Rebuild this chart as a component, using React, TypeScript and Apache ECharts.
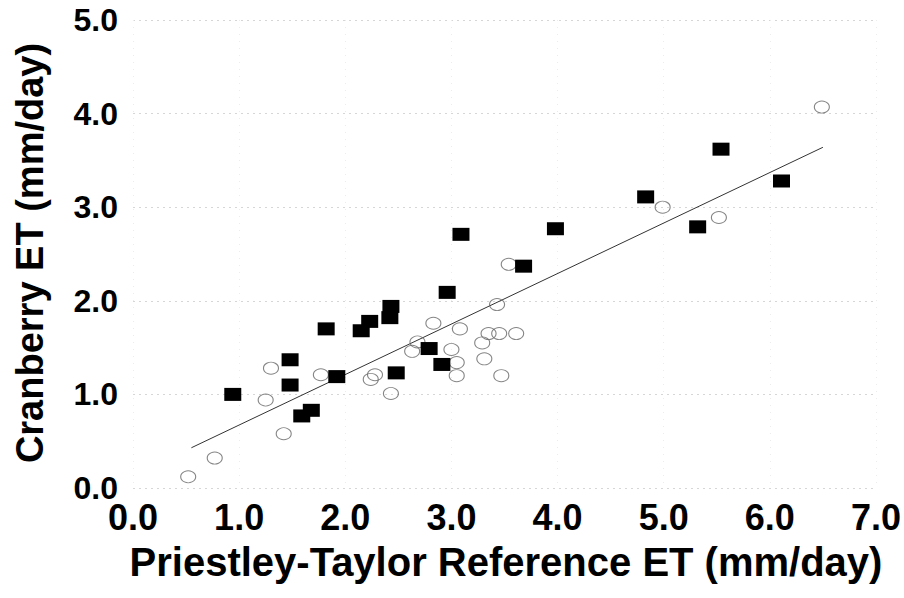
import React, { useEffect, useRef } from "react";
import * as echarts from "echarts";

// Filled squares
const squareX = [0.94, 1.48, 1.48, 1.59, 1.68, 1.82, 1.92, 2.15, 2.23, 2.42, 2.43, 2.48, 2.79, 2.91, 2.96, 3.09, 3.68, 3.98, 4.83, 5.32, 5.54, 6.11];
const squareY = [1.0, 1.37, 1.1, 0.77, 0.83, 1.7, 1.19, 1.68, 1.78, 1.82, 1.94, 1.23, 1.49, 1.32, 2.09, 2.71, 2.37, 2.77, 3.11, 2.79, 3.62, 3.28];

// Open circles
const circleX = [0.52, 0.77, 1.25, 1.3, 1.42, 1.77, 2.24, 2.28, 2.43, 2.63, 2.68, 2.83, 3.0, 3.05, 3.05, 3.08, 3.29, 3.31, 3.35, 3.43, 3.45, 3.47, 3.54, 3.61, 4.99, 5.52, 6.49];
const circleY = [0.12, 0.32, 0.94, 1.28, 0.58, 1.21, 1.16, 1.21, 1.01, 1.46, 1.56, 1.76, 1.48, 1.34, 1.2, 1.7, 1.55, 1.38, 1.65, 1.96, 1.65, 1.2, 2.39, 1.65, 3.0, 2.89, 4.07];

// Regression line end points
const trendX = [0.55, 6.5];
const trendY = [0.43, 3.64];

const xTicks = [0, 1, 2, 3, 4, 5, 6, 7];
const yTicks = [0, 1, 2, 3, 4, 5];

const xTitle = "Priestley-Taylor Reference ET (mm/day)";
const yTitle = "Cranberry ET (mm/day)";

const FONT = "'Liberation Sans', Arial, Helvetica, sans-serif";

export default function App() {
  const ref = useRef<HTMLDivElement>(null);

  useEffect(() => {
    document.body.style.margin = "0";
    if (!ref.current) return;
    const chart = echarts.init(ref.current, null, { renderer: "svg" });
    const zip = (xs: number[], ys: number[]) => xs.map((x, i) => [x, ys[i]]);
    chart.setOption({
      animation: false,
      backgroundColor: "#ffffff",
      grid: { left: 133, right: 27, top: 20, bottom: 110, containLabel: false },
      xAxis: {
        type: "value",
        min: xTicks[0],
        max: xTicks[xTicks.length - 1],
        interval: 1,
        axisLine: { show: false },
        axisTick: { show: false },
        splitLine: { show: true, lineStyle: { color: "#ececec", type: [1, 6], width: 1 } },
        axisLabel: {
          margin: 11,
          color: "#000",
          fontFamily: FONT,
          fontWeight: "bold",
          fontSize: 36,
          formatter: (v: number) => v.toFixed(1),
        },
      },
      yAxis: {
        type: "value",
        min: yTicks[0],
        max: yTicks[yTicks.length - 1],
        interval: 1,
        axisLine: { show: false },
        axisTick: { show: false },
        splitLine: { show: true, lineStyle: { color: "#d6d6d6", type: [2, 4], width: 1 } },
        axisLabel: {
          margin: 15,
          color: "#000",
          fontFamily: FONT,
          fontWeight: "bold",
          fontSize: 32,
          formatter: (v: number) => v.toFixed(1),
        },
      },
      graphic: [
        {
          type: "text",
          x: 506,
          y: 562,
          style: {
            text: xTitle,
            fill: "#000",
            font: `bold 40px ${FONT}`,
            textAlign: "center",
            textVerticalAlign: "middle",
          },
        },
        {
          type: "text",
          x: 30,
          y: 253,
          rotation: Math.PI / 2,
          style: {
            text: yTitle,
            fill: "#000",
            font: `bold 38px ${FONT}`,
            textAlign: "center",
            textVerticalAlign: "middle",
          },
        },
      ],
      series: [
        {
          type: "line",
          data: zip(trendX, trendY),
          symbol: "none",
          lineStyle: { color: "#333", width: 1 },
          z: 2,
        },
        {
          type: "scatter",
          data: zip(circleX, circleY),
          symbol: "circle",
          symbolSize: [15, 12],
          itemStyle: { color: "rgba(255,255,255,0)", borderColor: "#666", borderWidth: 1 },
          z: 3,
        },
        {
          type: "scatter",
          data: zip(squareX, squareY),
          symbol: "rect",
          symbolSize: [17, 13],
          itemStyle: { color: "#000", opacity: 1 },
          emphasis: { disabled: true },
          z: 4,
        },
      ],
    });
    return () => chart.dispose();
  }, []);

  return <div ref={ref} style={{ width: 904, height: 598 }} />;
}
